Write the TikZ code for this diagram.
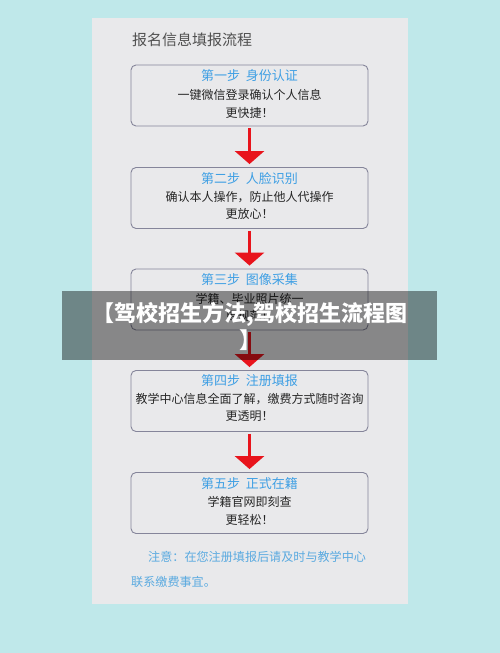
\documentclass[tikz,border=0pt]{standalone}
\usepackage{fontspec}
\setmainfont{Noto Sans CJK SC}
\usetikzlibrary{arrows.meta}
\definecolor{bgcyan}{HTML}{BFE8EA}
\definecolor{panelgray}{HTML}{E9E9EB}
\definecolor{boxline}{HTML}{85859A}
\definecolor{headblue}{HTML}{3E9FE4}
\definecolor{noteblue}{HTML}{5AAAE0}
\definecolor{titlegray}{HTML}{505050}
\definecolor{arrred}{HTML}{E8141C}
\begin{document}
\begin{tikzpicture}[x=1pt,y=-1pt,
  box/.style={draw=boxline, line width=0.9pt, rounded corners=5pt, minimum width=237pt, minimum height=61pt, inner sep=0pt, fill=panelgray},
  head/.style={text=headblue, font=\fontsize{13}{15}\selectfont, inner sep=0pt},
  body/.style={text=black!85, font=\fontsize{12}{14}\selectfont, inner sep=0pt},
  arr/.style={draw=arrred, line width=3pt, -{Triangle[width=29pt,length=13pt]}},
  note/.style={text=noteblue, font=\fontsize{12.1}{14}\selectfont, inner sep=0pt, anchor=west}
]
\useasboundingbox (0,0) rectangle (500,653);
\fill[bgcyan] (0,0) rectangle (500,653);
\fill[panelgray] (92,18) rectangle (408,604);

\node[text=titlegray, font=\fontsize{15}{18}\selectfont, anchor=west, inner sep=0pt] (title) at (132,40) {报名信息填报流程};

\node[box] (b1) at (249.5,95.5) {};
\node[box] (b2) at (249.5,198) {};
\node[box] (b3) at (249.5,299.5) {};
\node[box] (b4) at (249.5,401) {};
\node[box] (b5) at (249.5,503) {};

\node[head] (h1) at ([yshift=-11pt]b1.north) {第一步\hspace{6pt}身份认证};
\node[body] (t1a) at ([yshift=-30pt]b1.north) {一键微信登录确认个人信息};
\node[body] (t1b) at ([yshift=-48pt]b1.north) {更快捷！};

\node[head] (h2) at ([yshift=-11pt]b2.north) {第二步\hspace{6pt}人脸识别};
\node[body] (t2a) at ([yshift=-30pt]b2.north) {确认本人操作，防止他人代操作};
\node[body] (t2b) at ([yshift=-47pt]b2.north) {更放心！};

\node[head] (h3) at ([yshift=-11pt]b3.north) {第三步\hspace{6pt}图像采集};
\node[body] (t3a) at ([yshift=-30pt]b3.north) {学籍、毕业照片统一};
\node[body] (t3b) at ([yshift=-47pt]b3.north) {更规范！};

\node[head] (h4) at ([yshift=-11pt]b4.north) {第四步\hspace{6pt}注册填报};
\node[body] (t4a) at ([yshift=-29pt]b4.north) {教学中心信息全面了解，缴费方式随时咨询};
\node[body] (t4b) at ([yshift=-46pt]b4.north) {更透明！};

\node[head] (h5) at ([yshift=-11pt]b5.north) {第五步\hspace{6pt}正式在籍};
\node[body] (t5a) at ([yshift=-30pt]b5.north) {学籍官网即刻查};
\node[body] (t5b) at ([yshift=-48pt]b5.north) {更轻松！};

\draw[arr] ([yshift=-2pt]b1.south) -- ([yshift=3pt]b2.north);
\draw[arr] ([yshift=-2pt]b2.south) -- ([yshift=3pt]b3.north);
\draw[arr] ([yshift=-2pt]b3.south) -- ([yshift=3pt]b4.north);
\draw[arr] ([yshift=-2pt]b4.south) -- ([yshift=3pt]b5.north);

\node[note] (n1) at (148,557) {注意：在您注册填报后请及时与教学中心};
\node[note] (n2) at (131,582) {联系缴费事宜。};

\fill[black, fill opacity=0.42] (62,291) rectangle (437,360);
\node[text=white, font=\fontsize{22}{27}\selectfont\bfseries, align=center, inner sep=0pt] (cap) at (250,326.5) {【驾校招生方法,驾校招生流程图\\】};
\end{tikzpicture}
\end{document}
